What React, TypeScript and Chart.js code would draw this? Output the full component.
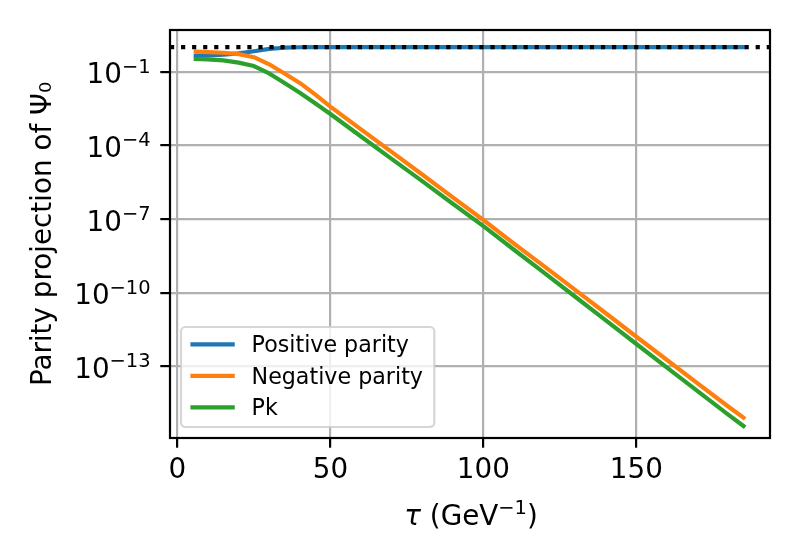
import React, { useEffect, useRef } from "react";
import { Chart, registerables } from "chart.js";

Chart.register(...registerables);

// ---- data ----
const TAU = [6, 10, 15, 20, 25, 30, 35, 40, 45, 50, 60, 70, 80, 90, 100, 110, 120, 130, 140, 150, 160, 170, 180, 185];
const POSITIVE_PARITY = [0.45, 0.46, 0.5, 0.56, 0.68, 0.85, 0.95, 0.99, 1.0, 1.0, 1.0, 1.0, 1.0, 1.0, 1.0, 1.0, 1.0, 1.0, 1.0, 1.0, 1.0, 1.0, 1.0, 1.0];
const NEGATIVE_PARITY = [0.66, 0.63, 0.59, 0.52, 0.39, 0.2, 0.085, 0.035, 0.012, 3.8e-3, 4.5e-4, 5.4e-5, 6.5e-6, 7.6e-7, 9.1e-8, 1.0e-8, 1.15e-9, 1.3e-10, 1.45e-11, 1.6e-12, 1.8e-13, 2.0e-14, 2.3e-15, 8.1e-16];
const PK = [0.33, 0.32, 0.29, 0.235, 0.17, 0.085, 0.035, 0.014, 5.2e-3, 1.9e-3, 2.3e-4, 2.8e-5, 3.5e-6, 4.2e-7, 5.1e-8, 5.6e-9, 6.2e-10, 6.8e-11, 7.4e-12, 8.1e-13, 8.9e-14, 9.8e-15, 1.07e-15, 3.7e-16];

const SERIES_LABELS = ["Positive parity", "Negative parity", "Pk"];
const SERIES_COLORS = ["#1f77b4", "#ff7f0e", "#2ca02c"];

const X_TICKS = [0, 50, 100, 150];
const X_TICK_LABELS = ["0", "50", "100", "150"];
const Y_TICKS = [1e-1, 1e-4, 1e-7, 1e-10, 1e-13];
const Y_TICK_BASE = "10";
const Y_TICK_EXPONENTS = ["−1", "−4", "−7", "−10", "−13"];
const REFERENCE_LEVEL = 1;

const X_MIN = -2.42;
const X_MAX = 193.66;
const Y_MIN = 1.2e-16;
const Y_MAX = 5.0;

const X_TITLE_PARTS = [
  { text: "τ", style: "italic" },
  { text: " (GeV", style: "normal" },
  { text: "−1", style: "sup" },
  { text: ")", style: "normal" },
];
const Y_TITLE = "Parity projection of Ψ₀";

const FONT = "DejaVu Sans";
const FS = 27.8;
const SUP = 0.7 * FS;

const overlayPlugin = {
  id: "overlay",
  afterDatasetsDraw(chart: any) {
    const { ctx, chartArea: a, scales } = chart;
    // dotted reference line
    const yRef = scales.y.getPixelForValue(REFERENCE_LEVEL);
    ctx.save();
    ctx.beginPath();
    ctx.rect(a.left, a.top, a.right - a.left, a.bottom - a.top);
    ctx.clip();
    ctx.setLineDash([4.17, 6.88]);
    ctx.lineDashOffset = 0;
    ctx.lineWidth = 4.17;
    ctx.lineCap = "butt";
    ctx.strokeStyle = "#000";
    ctx.beginPath();
    ctx.moveTo(a.left, yRef);
    ctx.lineTo(a.right, yRef);
    ctx.stroke();
    ctx.restore();

    // spines
    ctx.save();
    ctx.lineWidth = 2.2;
    ctx.strokeStyle = "#000";
    ctx.strokeRect(a.left, a.top, a.right - a.left, a.bottom - a.top);
    ctx.restore();

    // y tick labels with superscript exponents
    ctx.save();
    ctx.fillStyle = "#000";
    ctx.textBaseline = "alphabetic";
    ctx.textAlign = "left";
    const rightX = a.left - 9.7 - 9.7;
    Y_TICKS.forEach((v, i) => {
      const y = scales.y.getPixelForValue(v);
      const base = y + 11.5;
      ctx.font = `${SUP}px "${FONT}"`;
      const ew = ctx.measureText(Y_TICK_EXPONENTS[i]).width;
      ctx.font = `${FS}px "${FONT}"`;
      const bw = ctx.measureText(Y_TICK_BASE).width;
      const x0 = rightX - ew - bw;
      ctx.fillText(Y_TICK_BASE, x0, base);
      ctx.font = `${SUP}px "${FONT}"`;
      ctx.fillText(Y_TICK_EXPONENTS[i], x0 + bw, base - 10.6);
    });
    ctx.restore();

    // x title with italic tau and superscript
    ctx.save();
    ctx.fillStyle = "#000";
    ctx.textBaseline = "alphabetic";
    ctx.textAlign = "left";
    const fontFor = (style: string) =>
      style === "italic" ? `italic ${FS}px "${FONT}"` : style === "sup" ? `${SUP}px "${FONT}"` : `${FS}px "${FONT}"`;
    let total = 0;
    const widths = X_TITLE_PARTS.map((p) => {
      ctx.font = fontFor(p.style);
      const w = ctx.measureText(p.text).width;
      total += w;
      return w;
    });
    let xx = (a.left + a.right) / 2 - total / 2 + 1;
    const xb = 525;
    X_TITLE_PARTS.forEach((p, i) => {
      ctx.font = fontFor(p.style);
      ctx.fillText(p.text, xx, p.style === "sup" ? xb - 10.6 : xb);
      xx += widths[i];
    });
    ctx.restore();

    // legend (lower left)
    const fs = 22.2;
    ctx.save();
    ctx.font = `${fs}px "${FONT}"`;
    const datasets = chart.data.datasets;
    let maxW = 0;
    for (const d of datasets) maxW = Math.max(maxW, ctx.measureText(d.label).width);
    const borderPad = 0.4 * fs;
    const handleLen = 2.0 * fs;
    const handlePad = 0.8 * fs;
    const boxW = borderPad + handleLen + handlePad + maxW + borderPad + 2;
    const rowH = 31.5;
    const boxH = 100;
    const bx = a.left + 11;
    const by = a.bottom - 11 - boxH;
    ctx.beginPath();
    ctx.roundRect(bx, by, boxW, boxH, 4.4);
    ctx.fillStyle = "rgba(255,255,255,0.8)";
    ctx.fill();
    ctx.lineWidth = 2.2;
    ctx.strokeStyle = "rgba(204,204,204,0.8)";
    ctx.stroke();
    datasets.forEach((d: any, i: number) => {
      const cy = by + 17.3 + i * rowH;
      const hx = bx + borderPad + 0.5;
      ctx.beginPath();
      ctx.lineWidth = 4.17;
      ctx.lineCap = "square";
      ctx.strokeStyle = d.borderColor;
      ctx.moveTo(hx + 2.1, cy);
      ctx.lineTo(hx + handleLen - 2.1, cy);
      ctx.stroke();
      ctx.fillStyle = "#000";
      ctx.textAlign = "left";
      ctx.textBaseline = "alphabetic";
      ctx.fillText(d.label, hx + handleLen + handlePad - 1, cy + 8.1);
    });
    ctx.restore();
  },
};

export default function App() {
  const canvasRef = useRef<HTMLCanvasElement | null>(null);

  useEffect(() => {
    if (!canvasRef.current) return;
    const series = [POSITIVE_PARITY, NEGATIVE_PARITY, PK];
    const datasets = series.map((vals, i) => ({
      label: SERIES_LABELS[i],
      data: TAU.map((t, j) => ({ x: t, y: vals[j] })),
      borderColor: SERIES_COLORS[i],
      backgroundColor: SERIES_COLORS[i],
      borderWidth: 4.17,
      pointRadius: 0,
      pointHoverRadius: 0,
      tension: 0,
      fill: false,
      borderCapStyle: "square",
      borderJoinStyle: "round",
      order: 2 - i,
    }));

    const chart = new Chart(canvasRef.current, {
      type: "line",
      data: { datasets } as any,
      options: {
        animation: false,
        responsive: false,
        devicePixelRatio: 1,
        layout: { padding: { top: 30, right: 30, left: 0, bottom: 0 } },
        plugins: {
          legend: { display: false },
          tooltip: { enabled: false },
        },
        scales: {
          x: {
            type: "linear",
            min: X_MIN,
            max: X_MAX,
            afterBuildTicks: (s: any) => {
              s.ticks = X_TICKS.map((v) => ({ value: v }));
            },
            afterFit: (s: any) => {
              s.height = 122;
            },
            ticks: {
              autoSkip: false,
              maxRotation: 0,
              padding: 6,
              color: "#000",
              font: { family: FONT, size: FS },
              callback: (_v: any, i: number) => X_TICK_LABELS[i],
            },
            grid: {
              color: "#b0b0b0",
              lineWidth: 2.2,
              tickLength: 9.7,
              tickColor: "#000",
              tickWidth: 2.2,
            },
            border: { display: false },
            title: { display: false },
          },
          y: {
            type: "logarithmic",
            min: Y_MIN,
            max: Y_MAX,
            afterBuildTicks: (s: any) => {
              s.ticks = Y_TICKS.map((v) => ({ value: v, major: true }));
            },
            afterFit: (s: any) => {
              s.width = 170;
            },
            ticks: {
              display: false,
              autoSkip: false,
            },
            grid: {
              color: "#b0b0b0",
              lineWidth: 2.2,
              tickLength: 9.7,
              tickColor: "#000",
              tickWidth: 2.2,
              drawTicks: true,
            },
            border: { display: false },
            title: {
              display: true,
              text: Y_TITLE,
              color: "#000",
              font: { family: FONT, size: FS },
              padding: { top: 27, bottom: 0 },
            },
          },
        },
      } as any,
      plugins: [overlayPlugin],
    });
    return () => chart.destroy();
  }, []);

  return (
    <div style={{ position: "fixed", left: 0, top: 0, width: 800, height: 560, background: "#fff" }}>
      <canvas ref={canvasRef} width={800} height={560} style={{ width: 800, height: 560, display: "block" }} />
    </div>
  );
}
